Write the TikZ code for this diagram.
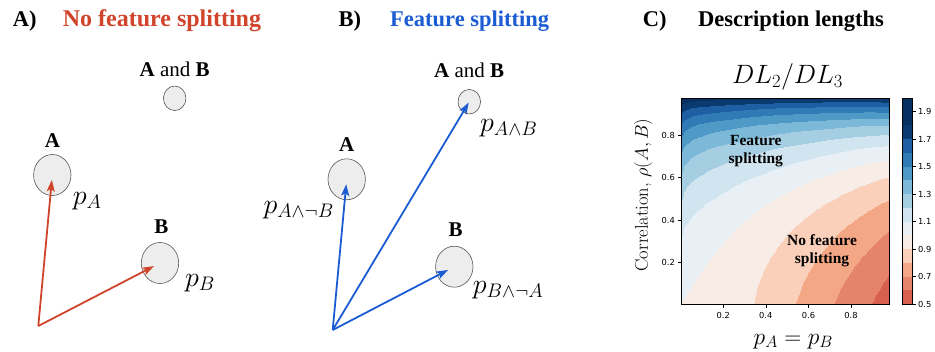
\documentclass[tikz,border=0pt]{standalone}
\usepackage{fix-cm}
\usepackage[no-math]{fontspec}
\newfontfamily\tnr{Liberation Serif}
\newfontfamily\dejavu{DejaVu Sans}
\usepackage{pgfplots}
\pgfplotsset{compat=1.18}
\usetikzlibrary{arrows.meta,shapes.geometric}
\definecolor{redc}{RGB}{208,68,44}
\definecolor{bluec}{RGB}{28,92,210}
\definecolor{blobfill}{RGB}{237,237,237}
\definecolor{blobline}{RGB}{85,85,85}
\definecolor{dl0}{RGB}{214,96,77}
\definecolor{dl1}{RGB}{230,132,105}
\definecolor{dl2}{RGB}{244,167,133}
\definecolor{dl3}{RGB}{250,208,186}
\definecolor{dl4}{RGB}{248,236,230}
\definecolor{dl5}{RGB}{233,240,245}
\definecolor{dl6}{RGB}{209,229,240}
\definecolor{dl7}{RGB}{165,206,227}
\definecolor{dl8}{RGB}{124,184,215}
\definecolor{dl9}{RGB}{78,153,198}
\definecolor{dl10}{RGB}{48,122,182}
\definecolor{dl11}{RGB}{29,95,162}
\definecolor{dl12}{RGB}{10,58,112}
\definecolor{dl13}{RGB}{5,48,97}
\definecolor{dl14}{RGB}{5,48,97}
\begin{document}
\begin{tikzpicture}[x=1pt,y=-1pt,
  blob/.style={ellipse, draw=blobline, fill=blobfill, line width=0.6pt, inner sep=0pt, minimum width=37.4pt, minimum height=41pt},
  smallblob/.style={blob, minimum width=22.5pt, minimum height=24.5pt},
  hdr/.style={font=\tnr\bfseries\fontsize{22.5}{27}\selectfont, anchor=base west, inner sep=0pt},
  lbl/.style={font=\tnr\fontsize{21}{25}\selectfont, anchor=base, inner sep=0pt},
  plbl/.style={font=\fontsize{28}{34}\selectfont, anchor=base west, inner sep=0pt},
  vecR/.style={draw=redc, line width=1.8pt, -{Stealth[length=11.5pt,width=8pt,inset=2.5pt]}},
  vecB/.style={vecR, draw=bluec},
  tickl/.style={font=\dejavu\fontsize{8.3}{10}\selectfont, inner sep=0pt},
  region/.style={font=\tnr\bfseries\fontsize{15.5}{18.5}\selectfont, inner sep=0pt, anchor=base},
  spine/.style={draw=black, line width=0.6pt},
]
\useasboundingbox (0,0) rectangle (935,351);

% ---------- headers
\node[hdr] (hA) at (12.7,26) {A)};
\node[hdr, text=redc, font=\tnr\bfseries\fontsize{24}{28}\selectfont] (hAt) at (62.7,26) {No feature splitting};
\node[hdr] (hB) at (338.3,26) {B)};
\node[hdr, text=bluec] (hBt) at (390,26) {Feature splitting};
\node[hdr] (hC) at (642.7,26) {C)};
\node[hdr] (hCt) at (698,26) {Description lengths};

% ---------- panel A
\node[smallblob] (aAB) at (174.7,98.3) {};
\node[blob] (aA) at (52.3,175) {};
\node[blob] (aB) at (160,263) {};
\coordinate (aO) at (38.3,326);
\draw[vecR, shorten >=5pt] (aO) -- (aA.center);
\draw[vecR, shorten >=6.8pt] (aO) -- (aB.center);
\node[lbl] (aABl) at (174.7,76.5) {\textbf{A} and \textbf{B}};
\node[lbl] (aAl) at (52.5,147.5) {\textbf{A}};
\node[lbl] (aBl) at (161.3,233) {\textbf{B}};
\node[plbl] (apA) at (72.7,204.5) {$p_A$};
\node[plbl] (apB) at (185,286) {$p_B$};

% ---------- panel B
\node[smallblob] (bAB) at (469.3,101.7) {};
\node[blob] (bA) at (346.7,179.3) {};
\node[blob] (bB) at (454.3,266.7) {};
\coordinate (bO) at (332.7,330);
\draw[vecB, shorten >=5pt] (bO) -- (bA.center);
\draw[vecB, shorten >=1pt] (bO) -- (bAB.center);
\draw[vecB, shorten >=7pt] (bO) -- (bB.center);
\node[lbl] (bABl) at (469.2,77.5) {\textbf{A} and \textbf{B}};
\node[lbl] (bAl) at (346.7,151.5) {\textbf{A}};
\node[lbl] (bBl) at (455.7,236) {\textbf{B}};
\node[plbl] (bpAB) at (480,131) {$p_{A\wedge B}$};
\node[plbl] (bpAnB) at (263.3,213) {$p_{A\wedge\neg B}$};
\node[plbl] (bpBnA) at (472.7,293) {$p_{B\wedge\neg A}$};

% ---------- panel C : contour plot
\begin{axis}[
  at={(681pt,-304pt)}, anchor=south west,
  scale only axis, width=208pt, height=206pt,
  hide axis, view={0}{90},
  xmin=0.002, xmax=0.978, ymin=0.002, ymax=0.978,
  point meta min=0.5, point meta max=2.0,
  colormap access=piecewise constant,
  colormap={dlmap}{rgb255(0cm)=(214,96,77); rgb255(1cm)=(230,132,105);
    rgb255(2cm)=(244,167,133); rgb255(3cm)=(250,208,186); rgb255(4cm)=(248,236,230);
    rgb255(5cm)=(233,240,245); rgb255(6cm)=(209,229,240); rgb255(7cm)=(165,206,227);
    rgb255(8cm)=(124,184,215); rgb255(9cm)=(78,153,198); rgb255(10cm)=(48,122,182);
    rgb255(11cm)=(29,95,162); rgb255(12cm)=(10,58,112); rgb255(13cm)=(5,48,97);
    rgb255(14cm)=(5,48,97); rgb255(15cm)=(5,48,97)},
  declare function={Hb(\t)=-(\t*ln(\t)+(1-\t)*ln(1-\t));
    qq(\p,\r)=\p*\p+\r*\p*(1-\p);
    dlr(\p,\r)=2*Hb(\p)/(2*Hb(\p*(1-\p)*(1-\r))+Hb(qq(\p,\r)));},
]
\addplot3[surf, shader=interp, domain=0.002:0.978, y domain=0.002:0.978, samples=61] {dlr(x,y)};
\end{axis}

\draw[spine] (681,98) rectangle (889,304);
\foreach \v/\n in {0.2/a,0.4/b,0.6/c,0.8/d}{
  \draw[spine] ({681+(\v-0.002)*213.1},304) -- ++(0,3.5);
  \node[tickl, anchor=north] (xt\n) at ({681+(\v-0.002)*213.1},312.5) {\v};
  \draw[spine] (681,{304-(\v-0.002)*211.07}) -- ++(-3.5,0);
  \node[tickl, anchor=east] (yt\n) at (675,{304-(\v-0.002)*211.07}) {\v};
}

% colorbar
\foreach \k in {0,...,14}{
  \fill[dl\k] (902,{304-\k*13.7333}) rectangle (912,{304-(\k+1)*13.7333});
}
\draw[spine] (902,98) rectangle (912,304);
\foreach \v/\n in {0.5/a,0.7/b,0.9/c,1.1/d,1.3/e,1.5/f,1.7/g,1.9/h}{
  \draw[spine] (912,{304-(\v-0.5)*137.333}) -- ++(3.5,0);
  \node[tickl, anchor=west] (cb\n) at (918,{304-(\v-0.5)*137.333}) {\v};
}

\node[font=\fontsize{26.5}{32}\selectfont, anchor=base, inner sep=0pt] (ttl) at (787.5,83.3) {$DL_2/DL_3$};
\node[font=\fontsize{18.5}{22}\selectfont, rotate=90, inner sep=0pt] (ylab) at (643.3,195) {Correlation, $\rho(A,B)$};
\node[font=\fontsize{23.5}{28}\selectfont, anchor=base, inner sep=0pt] (xlab) at (793.3,344.4) {$p_A = p_B$};

\node[region] (fs1) at (755.8,145) {Feature};
\node[region] (fs2) at (755.8,163) {splitting};
\node[region] (nf1) at (822,245) {No feature};
\node[region] (nf2) at (822,263) {splitting};
\end{tikzpicture}
\end{document}
